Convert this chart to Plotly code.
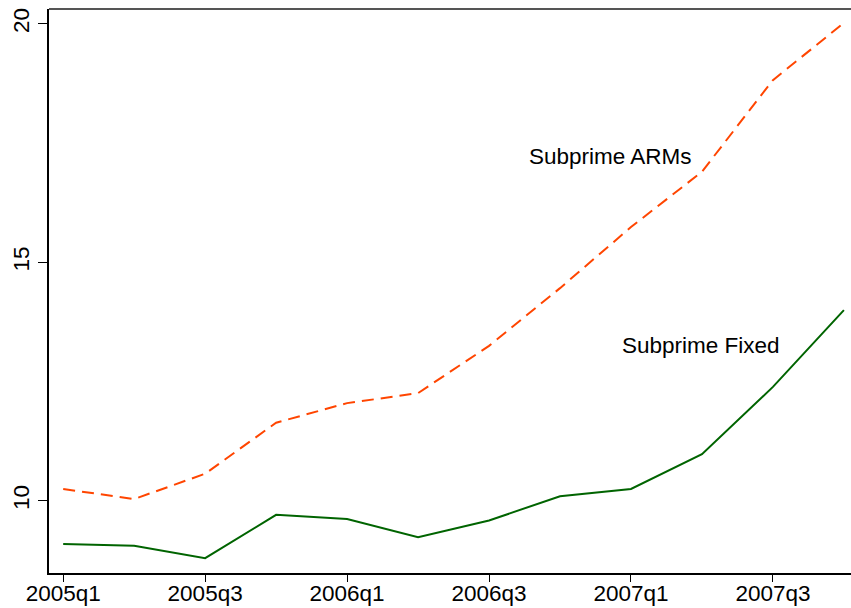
import plotly.graph_objects as go

quarters = ["2005q1", "2005q2", "2005q3", "2005q4", "2006q1", "2006q2",
            "2006q3", "2006q4", "2007q1", "2007q2", "2007q3", "2007q4"]
subprime_arms = [10.25, 10.04, 10.57, 11.64, 12.05, 12.26, 13.25, 14.46, 15.74, 16.90, 18.82, 20.02]
subprime_fixed = [9.10, 9.06, 8.80, 9.71, 9.62, 9.24, 9.59, 10.10, 10.25, 10.98, 12.39, 14.00]
tick_labels = ["2005q1", "2005q3", "2006q1", "2006q3", "2007q1", "2007q3"]

xi = list(range(len(quarters)))
tick_idx = [quarters.index(t) for t in tick_labels]

FS = 22.5

fig = go.Figure()
fig.add_trace(go.Scatter(x=xi, y=subprime_arms, mode="lines", name="Subprime ARMs",
                         line=dict(color="#FF4500", width=2, dash="12px,7px")))
fig.add_trace(go.Scatter(x=xi, y=subprime_fixed, mode="lines", name="Subprime Fixed",
                         line=dict(color="#006400", width=2)))

fig.add_annotation(x=7.71, y=17.21, text="Subprime ARMs", showarrow=False,
                   font=dict(size=FS, color="black"))
fig.add_annotation(x=8.98, y=13.25, text="Subprime Fixed", showarrow=False,
                   font=dict(size=FS, color="black"))

fig.add_shape(type="line", xref="paper", yref="paper", x0=0, x1=1, y0=1, y1=1,
              line=dict(color="#555555", width=2))

fig.update_layout(
    width=851, height=608,
    margin=dict(l=49, r=0, t=9, b=35),
    plot_bgcolor="white", paper_bgcolor="white",
    showlegend=False,
    font=dict(family="Liberation Sans, Arial, sans-serif", size=FS, color="black"),
    xaxis=dict(range=[-0.2, 11.1], tickvals=tick_idx, ticktext=tick_labels,
               showgrid=False, zeroline=False, showline=True, linecolor="black",
               linewidth=2, ticks="outside", ticklen=7, tickwidth=1, tickcolor="black",
               tickfont=dict(size=FS), automargin=False, ticklabelstandoff=-8),
    yaxis=dict(range=[8.49, 20.31], tickvals=[10, 15, 20], showgrid=False,
               zeroline=False, showline=True, linecolor="black", linewidth=1.5,
               ticks="outside", ticklen=9, tickwidth=1, tickcolor="black",
               tickangle=-90, tickfont=dict(size=FS), automargin=False),
)

fig.write_html("out.html", config={"displayModeBar": False},
               post_script="document.body.style.margin='0';document.body.style.overflow='hidden';")
